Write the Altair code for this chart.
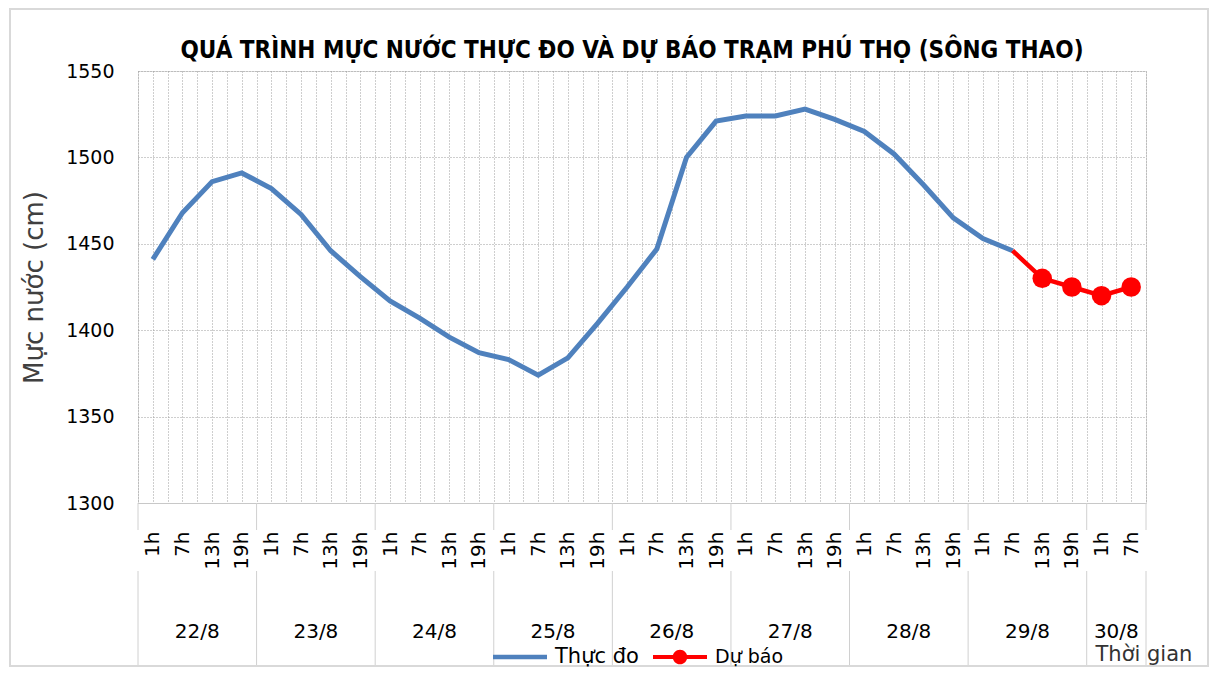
import json
import altair as alt
import pandas as pd

# ---------------- data ----------------
days = ["22/8", "23/8", "24/8", "25/8", "26/8", "27/8", "28/8", "29/8", "30/8"]
hours_per_day = [4, 4, 4, 4, 4, 4, 4, 4, 2]
hour_labels = ["1h", "7h", "13h", "19h"] * 8 + ["1h", "7h"]

observed = [1441, 1468, 1486, 1491, 1482, 1467, 1446, 1431, 1417, 1407,
            1396, 1387, 1383, 1374, 1384, 1404, 1425, 1447, 1500, 1521,
            1524, 1524, 1528, 1522, 1515, 1502, 1484, 1465, 1453, 1446]
forecast = [1446, 1430, 1425, 1420, 1425]   # starts at the last observed step
forecast_start = len(observed) - 1

series_names = ["Thực đo", "Dự báo"]
series_colors = ["#4F81BD", "#FF0000"]
y_ticks = [1300, 1350, 1400, 1450, 1500, 1550]

title_text = "QUÁ TRÌNH MỰC NƯỚC THỰC ĐO VÀ DỰ BÁO TRẠM PHÚ THỌ (SÔNG THAO)"

# ---------------- tables ----------------
n = len(hour_labels)
obs_df = pd.DataFrame({"idx": list(range(len(observed))), "value": observed})
fc_df = pd.DataFrame({"idx": list(range(forecast_start, forecast_start + len(forecast))),
                      "value": forecast})
fc_pts = fc_df.iloc[1:].reset_index(drop=True)

starts, s = [], 0
for k in hours_per_day:
    starts.append(s)
    s += k
day_df = pd.DataFrame({"day": days,
                       "center": [st + k / 2 - 0.5 for st, k in zip(starts, hours_per_day)]})
bounds = [st - 0.5 for st in starts] + [n - 0.5]
bound_df = pd.DataFrame({"bound": bounds})
legend_df = pd.DataFrame({"series": series_names})
title_df = pd.DataFrame({"t": [title_text]})

grid_vals = [i * 0.5 - 0.5 for i in range(2 * n + 1)]

W, H = 1008, 432
FONT = "DejaVu Sans"
TFONT = "DejaVu Sans Condensed, Liberation Sans Narrow, DejaVu Sans"

x_scale = alt.Scale(domain=[-0.5, n - 0.5], nice=False, zero=False)
y_scale = alt.Scale(domain=[1300, 1550], nice=False, zero=False)

label_expr = ("(datum.value % 1 === 0 && datum.value >= 0) ? "
              + json.dumps(hour_labels, ensure_ascii=False) + "[datum.value] : ''")

x_axis = alt.Axis(values=grid_vals, labelExpr=label_expr, labelAngle=270,
                  labelAlign="right", labelBaseline="middle", labelPadding=28,
                  labelFontSize=20, labelFont=FONT, labelColor="black",
                  labelOverlap=False, labelFlush=False, ticks=False,
                  domainColor="#c8c8c8", domainWidth=1,
                  grid=True, gridDash=[1, 2], gridColor="#9c9c9c", gridWidth=1,
                  title="Thời gian", titleX=957, titleY=151, titleAlign="left",
                  titleAnchor="start", titleBaseline="middle", titleFontSize=21,
                  titleFont=FONT, titleFontWeight="normal", titleColor="#333333")

y_axis = alt.Axis(values=y_ticks, format="d", domain=False, ticks=False, labelPadding=24,
                  labelFontSize=19, labelFont=FONT, labelColor="black",
                  grid=True, gridDash=[1, 2], gridColor="#9c9c9c", gridWidth=1,
                  title="Mực nước (cm)", titleX=-104, titleY=H / 2, titleAngle=270,
                  titleAlign="center", titleBaseline="middle", titleFontSize=26,
                  titleFont=FONT, titleFontWeight="normal", titleColor="#404040")

X = lambda f: alt.X(f, scale=x_scale, axis=x_axis)
Y = lambda f: alt.Y(f, scale=y_scale, axis=y_axis)

obs_line = alt.Chart(obs_df).mark_line(color=series_colors[0], strokeWidth=5).encode(
    x=X("idx:Q"), y=Y("value:Q"),
)

fc_line = alt.Chart(fc_df).mark_line(color=series_colors[1], strokeWidth=4.5).encode(
    x=X("idx:Q"), y=Y("value:Q"),
)

fc_points = alt.Chart(fc_pts).mark_circle(color=series_colors[1], size=380, opacity=1).encode(
    x=X("idx:Q"), y=Y("value:Q"),
)

sep_top = alt.Chart(bound_df).mark_rule(color="#d0d0d0", strokeWidth=1).encode(
    x=X("bound:Q"), y=alt.value(H), y2=alt.value(H + 27),
)
sep_bot = alt.Chart(bound_df).mark_rule(color="#d0d0d0", strokeWidth=1).encode(
    x=X("bound:Q"), y=alt.value(H + 68), y2=alt.value(H + 162),
)

day_text = alt.Chart(day_df).mark_text(fontSize=20, font=FONT, color="black",
                                       baseline="middle", align="center").encode(
    x=X("center:Q"), y=alt.value(H + 129), text="day:N",
)

title_mark = alt.Chart(title_df).mark_text(fontSize=24, font=TFONT, fontWeight="bold",
                                           color="black", baseline="alphabetic",
                                           align="center").encode(
    x=alt.value(W / 2 - 10), y=alt.value(-13), text="t:N",
)

blue_path = "M-1,-0.08H1V0.08H-1Z"
red_path = ("M-1,-0.07H1V0.07H-1Z M0.27,0 A0.27,0.27 0 1,1 -0.27,0 "
            "A0.27,0.27 0 1,1 0.27,0Z")

leg = alt.Legend(orient="none", legendX=355, legendY=559, direction="horizontal",
                 title=None, symbolSize=2916, symbolOpacity=1, symbolStrokeWidth=0,
                 labelFontSize={"expr": "datum.value == 'Thực đo' ? 21 : 19"},
                 labelFont=FONT, labelColor="black",
                 labelOffset=8, columnPadding=14)

legend_layer = alt.Chart(legend_df).mark_point(filled=True, opacity=0).encode(
    x=alt.value(0), y=alt.value(0),
    color=alt.Color("series:N", scale=alt.Scale(domain=series_names, range=series_colors),
                    legend=leg, sort=series_names),
    shape=alt.Shape("series:N", scale=alt.Scale(domain=series_names,
                                                range=[blue_path, red_path]),
                    legend=leg, sort=series_names),
)

border = alt.Chart(pd.DataFrame({"a": [0]})).mark_rect(
    filled=False, stroke="#d9d9d9", strokeWidth=2).encode(
    x=alt.value(-128), x2=alt.value(W + 62), y=alt.value(-62), y2=alt.value(H + 163),
)

chart = alt.layer(
    border, sep_top, sep_bot, day_text, obs_line, fc_line, fc_points, legend_layer,
    title_mark
).properties(
    width=W, height=H,
    autosize=alt.AutoSizeParams(type="none"),
    padding={"left": 130, "top": 63, "right": 64, "bottom": 164},
).configure_view(strokeWidth=0).configure(background="white")

chart.save("out.html", embed_options={"renderer": "svg", "actions": False})
